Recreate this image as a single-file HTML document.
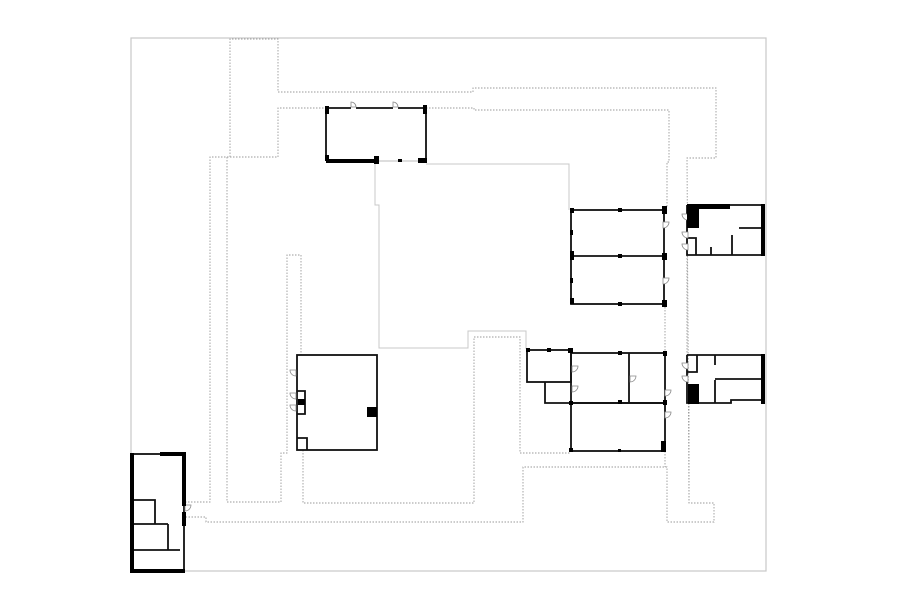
<!DOCTYPE html>
<html><head><meta charset="utf-8"><style>
html,body{margin:0;padding:0;background:#fff;}
svg{display:block;}
</style></head><body>
<svg width="900" height="604" viewBox="0 0 900 604" xmlns="http://www.w3.org/2000/svg">
<rect x="0" y="0" width="900" height="604" fill="#fff"/>
<rect x="131" y="38" width="635" height="533" fill="none" stroke="#c8c8c8" stroke-width="1.2"/>
<polyline points="375,164 375,205 379,205 379,348 468,348 468,331 526,331 526,349" fill="none" stroke="#c8c8c8" stroke-width="1"/>
<polyline points="426,164 569,164 569,210" fill="none" stroke="#c8c8c8" stroke-width="1"/>
<g fill="none" stroke="#9a9a9a" stroke-width="0.9" stroke-dasharray="1.5,1.5">
<polyline points="185,502 210,502 210,157 230,157 230,39 278,39 278,92 473,92 473,88 716,88 716,158 687,158 689,503 714,503 714,522 667,522 667,467 523,467 523,522 206,522 206,517 185,517"/>
<polyline points="230,157 278,157 278,108 326,108"/>
<polyline points="227,157 227,502 281,502 281,453 287,453 287,255 301,255 301,355"/>
<polyline points="303,450 303,503 474,503 474,337 520,337 520,453 571,453"/>
<polyline points="426,108 474,108 474,110 669,110 669,162 667,162 667,207"/>
<polyline points="665,304 665,352"/>
<polyline points="687,255 687,355"/>
<polyline points="689,403 689,503"/>
<polyline points="665,451 665,467"/>
</g>
<g fill="none" stroke="#111" stroke-width="1.8">
<polyline points="351,108 326,108 326,161"/>
<line x1="356" y1="108" x2="393" y2="108"/>
<polyline points="398,108 426,108 426,161"/>
<line x1="376" y1="161" x2="426" y2="161" stroke="#bbb" stroke-width="1"/>
<rect x="571" y="210" width="93" height="94"/>
<line x1="571" y1="256" x2="664" y2="256"/>
<polyline points="687,205 764,205 764,255 687,255 687,205"/>
<polyline points="739,228 764,228"/>
<polyline points="732,235 732,255"/>
<polyline points="711,247 711,255"/>
<polyline points="688,238 696,238 696,255"/>
<rect x="527" y="350" width="44" height="32"/>
<polyline points="545,382 545,403 571,403"/>
<rect x="571" y="353" width="94" height="50"/>
<line x1="629" y1="353" x2="629" y2="403"/>
<rect x="571" y="403" width="94" height="48"/>
<polyline points="687,355 764,355 764,400 731,400 731,403 687,403 687,355"/>
<polyline points="697,355 697,372 687,372"/>
<line x1="715" y1="355" x2="715" y2="365"/>
<line x1="715" y1="380" x2="715" y2="403"/>
<line x1="715" y1="379" x2="764" y2="379"/>
<rect x="297" y="355" width="80" height="95"/>
<polyline points="297,391 305,391 305,414 297,414"/>
<polyline points="297,438 307,438 307,450"/>
<rect x="132" y="454" width="52" height="118"/>
<polyline points="132,500 155,500 155,524"/>
<line x1="132" y1="524" x2="168" y2="524"/>
<line x1="168" y1="524" x2="168" y2="550"/>
<line x1="132" y1="550" x2="180" y2="550"/>
</g>
<g fill="#fff" stroke="#888" stroke-width="0.8">
<path d="M351,107 v-5 a5,5 0 0 1 5,5 z"/>
<path d="M393,107 v-5 a5,5 0 0 1 5,5 z"/>
<path d="M663,222 h6 a6,6 0 0 1 -6,6 z"/>
<path d="M663,278 h6 a6,6 0 0 1 -6,6 z"/>
<path d="M688,214 h-6 a6,6 0 0 0 6,6 z"/>
<path d="M688,232 h-6 a6,6 0 0 0 6,6 z"/>
<path d="M688,244 h-6 a6,6 0 0 0 6,6 z"/>
<path d="M688,363 h-6 a6,6 0 0 0 6,6 z"/>
<path d="M688,376 h-6 a6,6 0 0 0 6,6 z"/>
<path d="M296,370 h-6 a6,6 0 0 0 6,6 z"/>
<path d="M296,393 h-6 a6,6 0 0 0 6,6 z"/>
<path d="M296,405 h-6 a6,6 0 0 0 6,6 z"/>
<path d="M572,366 h6 a6,6 0 0 1 -6,6 z"/>
<path d="M630,376 h6 a6,6 0 0 1 -6,6 z"/>
<path d="M572,386 h6 a6,6 0 0 1 -6,6 z"/>
<path d="M665,390 h6 a6,6 0 0 1 -6,6 z"/>
<path d="M665,412 h6 a6,6 0 0 1 -6,6 z"/>
<path d="M185,505 h6 a6,6 0 0 1 -6,6 z"/>
</g>
<g fill="#000">
<rect x="325" y="106" width="4" height="8"/><rect x="423" y="105" width="4" height="9"/>
<rect x="326" y="159" width="50" height="4"/><rect x="374" y="156" width="5" height="8"/>
<rect x="398" y="159" width="4" height="3"/><rect x="418" y="158" width="9" height="5"/>
<rect x="325" y="155" width="4" height="6"/>
<rect x="570" y="208" width="4" height="5"/><rect x="618" y="208" width="4" height="4"/><rect x="662" y="206" width="5" height="8"/>
<rect x="570" y="230" width="3" height="5"/><rect x="570" y="251" width="4" height="9"/><rect x="618" y="254" width="4" height="4"/><rect x="662" y="253" width="5" height="7"/>
<rect x="570" y="278" width="3" height="5"/><rect x="570" y="298" width="4" height="6"/><rect x="618" y="302" width="4" height="4"/><rect x="662" y="300" width="5" height="7"/>
<rect x="687" y="204" width="43" height="5"/><rect x="687" y="204" width="12" height="24"/><rect x="761" y="204" width="4" height="52"/>
<rect x="526" y="348" width="4" height="4"/><rect x="547" y="348" width="4" height="4"/><rect x="568" y="348" width="5" height="5"/>
<rect x="618" y="351" width="4" height="4"/><rect x="663" y="351" width="4" height="5"/>
<rect x="569" y="401" width="4" height="4"/><rect x="618" y="400" width="4" height="4"/><rect x="663" y="400" width="4" height="5"/>
<rect x="569" y="448" width="4" height="4"/><rect x="618" y="449" width="3" height="3"/><rect x="661" y="441" width="5" height="11"/>
<rect x="688" y="384" width="11" height="20"/><rect x="761" y="354" width="4" height="50"/>
<rect x="298" y="399" width="7" height="6"/><rect x="367" y="407" width="10" height="10"/>
<rect x="130" y="453" width="4" height="120"/><rect x="130" y="569" width="55" height="4"/>
<rect x="160" y="452" width="26" height="4"/><rect x="182" y="452" width="4" height="54"/>
<rect x="182" y="512" width="4" height="14"/>
</g>
</svg>
</body></html>
